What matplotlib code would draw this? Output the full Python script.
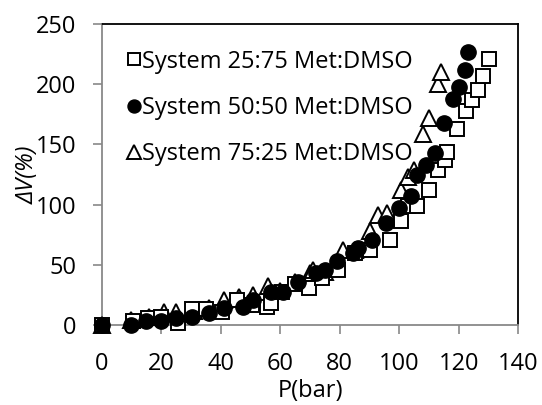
import matplotlib
matplotlib.use("Agg")
import matplotlib.pyplot as plt

# Data
p_2575 = [0, 10.5, 15.5, 20, 25.5, 30.5, 35, 40.5, 45.5, 50.5, 55.5, 57, 60.5, 65, 69.5, 74,
          79.5, 85, 90, 97, 100.5, 103, 106, 110, 113, 115.5, 116, 119.5, 122.5, 124.5, 126.5, 128, 130]
v_2575 = [0, 3, 6, 7, 2, 13, 13, 11, 21, 17, 15, 18, 27, 34, 31, 39,
          46, 60, 62, 71, 86, 99, 99, 112, 129, 137, 144, 163, 178, 187, 195, 207, 221]

p_5050 = [0, 10, 15, 20, 25, 30.5, 36, 41, 47.5, 51, 57, 61, 66, 72, 75, 79, 84.5, 86, 91,
          95.5, 100, 104, 106, 109, 112, 115, 118, 120, 122, 123]
v_5050 = [0, 0, 3, 3, 6, 7, 10, 14, 15, 21, 27, 27, 36, 43, 46, 53, 60, 64, 71,
          85, 97, 107, 125, 133, 143, 168, 188, 198, 212, 227]

p_7525 = [0, 10, 16, 21, 25, 31, 36, 41, 46, 51, 56, 60, 65, 70, 71, 75, 81, 85, 90, 93,
          96, 100.5, 103, 105, 108, 110, 113, 114]
v_7525 = [0, 4, 7, 11, 11, 12, 14, 21, 23, 25, 32, 28, 36, 43, 46, 44, 62, 62, 78, 91,
          93, 112, 123, 129, 159, 172, 200, 210]

labels = ["System 25:75 Met:DMSO", "System 50:50 Met:DMSO", "System 75:25 Met:DMSO"]
xticks = [0, 20, 40, 60, 80, 100, 120, 140]
yticks = [0, 50, 100, 150, 200, 250]

plt.rcParams['font.family'] = ['Open Sans', 'DejaVu Sans']
fs = 17

fig = plt.figure(figsize=(5.42, 4.05), dpi=100)
ax = fig.add_axes([101.7/542, (405-325)/405, (518.3-101.7)/542, (325-24)/405])

ax.plot(p_2575, v_2575, linestyle='none', marker='s', markersize=10.5, markerfacecolor='white',
        markeredgecolor='black', markeredgewidth=1.4, label=labels[0], clip_on=False, zorder=3.2)
ax.plot(p_5050, v_5050, linestyle='none', marker='o', markersize=11, markerfacecolor='black',
        markeredgecolor='black', markeredgewidth=1.0, label=labels[1], clip_on=False, zorder=3.3)
ax.plot(p_7525, v_7525, linestyle='none', marker='^', markersize=11.5, markerfacecolor='white',
        markeredgecolor='black', markeredgewidth=1.4, label=labels[2], clip_on=False, zorder=3.1)

ax.set_xlim(0, 140)
ax.set_ylim(0, 250)
ax.set_xticks(xticks)
ax.set_yticks(yticks)
ax.tick_params(axis='both', labelsize=fs, color='#898989', length=6.5, width=1.2, direction='out')
ax.tick_params(axis='x', pad=13)
ax.tick_params(axis='y', pad=12)
for s in ['left', 'bottom']:
    ax.spines[s].set_color('#898989')
    ax.spines[s].set_linewidth(1.3)
for s in ['top', 'right']:
    ax.spines[s].set_color('black')
    ax.spines[s].set_linewidth(1.3)
for s in ax.spines.values():
    s.set_zorder(0.5)

ax.set_xlabel("P(bar)", fontsize=fs, labelpad=2)
ax.set_ylabel("ΔV(%)", fontsize=fs, style='italic', labelpad=-3)

leg = ax.legend(loc='upper left', frameon=False, fontsize=fs, handlelength=0.6, handletextpad=0.05,
                labelspacing=0.95, borderaxespad=0.3, markerscale=0.85, bbox_to_anchor=(0.02, 0.97))

fig.savefig("out.png", dpi=100)
